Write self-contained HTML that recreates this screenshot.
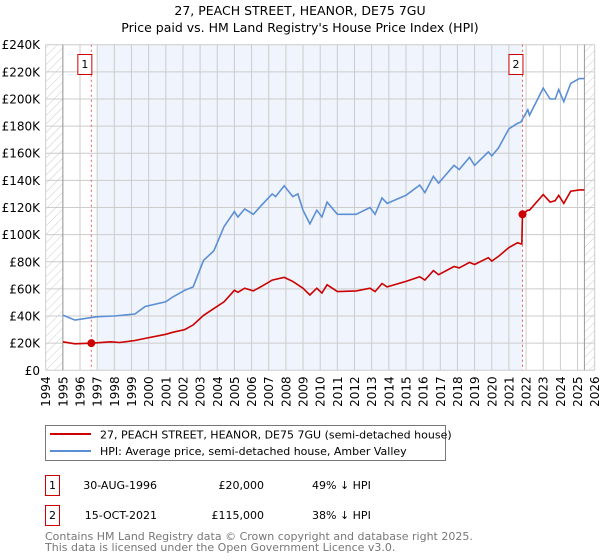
<!DOCTYPE html>
<html><head><meta charset="utf-8"><style>
body{margin:0;background:#fff;}
svg{display:block;font-family:"DejaVu Sans","Liberation Sans",sans-serif;}
</style></head><body>
<svg id="c" width="600" height="560" xmlns="http://www.w3.org/2000/svg">
<defs><pattern id="hatch" width="6" height="6" patternUnits="userSpaceOnUse" patternTransform="rotate(45)"><line x1="0" y1="0" x2="0" y2="6" stroke="#ccc" stroke-width="1"/></pattern></defs>
<text x="300" y="15" text-anchor="middle" font-size="12.5">27, PEACH STREET, HEANOR, DE75 7GU</text>
<text x="300" y="32" text-anchor="middle" font-size="12.5">Price paid vs. HM Land Registry's House Price Index (HPI)</text>
<g id="plot"></g>
<g>
<rect x="45.5" y="425.5" width="400" height="35" fill="#fff" stroke="#777"/>
<line x1="50" y1="434" x2="91" y2="434" stroke="#cc0000" stroke-width="2"/>
<text x="100" y="438.5" font-size="11">27, PEACH STREET, HEANOR, DE75 7GU (semi-detached house)</text>
<line x1="50" y1="451" x2="91" y2="451" stroke="#5b8fd4" stroke-width="2"/>
<text x="100" y="455" font-size="11">HPI: Average price, semi-detached house, Amber Valley</text>
</g>
<g font-size="11">
<rect x="45.5" y="475.5" width="14" height="20" fill="#fff" stroke="#cc0000"/>
<text x="52.5" y="489" text-anchor="middle">1</text>
<text x="157" y="489" text-anchor="end">30-AUG-1996</text>
<text x="264" y="489" text-anchor="end">£20,000</text>
<text x="312" y="489">49% ↓ HPI</text>
<rect x="45.5" y="505.5" width="14" height="20" fill="#fff" stroke="#cc0000"/>
<text x="52.5" y="519" text-anchor="middle">2</text>
<text x="157" y="519" text-anchor="end">15-OCT-2021</text>
<text x="264" y="519" text-anchor="end">£115,000</text>
<text x="312" y="519">38% ↓ HPI</text>
</g>
<text x="45" y="540" font-size="11" fill="#777">Contains HM Land Registry data © Crown copyright and database right 2025.</text>
<text x="45" y="551" font-size="11" fill="#777">This data is licensed under the Open Government Licence v3.0.</text>
</svg>
<script>
const hpiYears=[1995,1995.7,1997,1998,1999.2,1999.8,2001,2001.4,2002.1,2002.6,2003.2,2003.8,2004.4,2005.0,2005.2,2005.6,2006.1,2006.6,2007.2,2007.4,2007.9,2008.4,2008.7,2009.0,2009.4,2009.8,2010.1,2010.4,2011.0,2012.1,2012.9,2013.2,2013.6,2013.9,2015.0,2015.8,2016.1,2016.6,2016.9,2017.8,2018.1,2018.7,2019.0,2019.8,2020.0,2020.4,2021.0,2021.5,2021.7,2022.1,2022.2,2023.0,2023.4,2023.7,2023.9,2024.2,2024.6,2025.1,2025.4];
const hpiValues=[40.7,37,39.5,40,41.5,47,50.5,54,59,61.5,81,88,106,117,113,119,115,122,130,128,136,128,130,118,108,118,113,124,115,115,120,115,127,123,129,136.5,131,143,138,151,148,157,151,161,158,164,178,182,183,192,188,208,200,200,207,198,211.5,215,215];
const priceYears=[1995,1995.7,1996.66,1997.8,1998.3,1999.2,1999.8,2001,2001.4,2002.1,2002.6,2003.2,2003.8,2004.4,2005.0,2005.2,2005.6,2006.1,2006.6,2007.2,2007.9,2008.4,2009.0,2009.4,2009.8,2010.1,2010.4,2011.0,2012.1,2012.9,2013.2,2013.6,2013.9,2015.0,2015.8,2016.1,2016.6,2016.9,2017.8,2018.1,2018.7,2019.0,2019.8,2020.0,2020.4,2021.0,2021.5,2021.75,2021.79,2022.1,2022.2,2023.0,2023.4,2023.7,2023.9,2024.2,2024.6,2025.1,2025.4];
const priceValues=[21,19.5,20,21,20.5,22,23.5,26.5,28,30,33.5,40.5,45.5,50.5,59,57.5,60.5,58.5,62,66.5,68.5,65.5,60.5,55.5,60.5,57,63,58,58.5,60.5,58,64,61.5,65.5,69,66.5,73.5,70.5,76.5,75.5,79.5,78,83,80.5,84,90.5,94,93,115,118,118,129.5,124,125,129,123,132,133,133];
const sales=[{label:"1",year:1996.66,value:20},{label:"2",year:2021.79,value:115}];
const yTicks=[0,20,40,60,80,100,120,140,160,180,200,220,240];
const xTicks=[1994,1995,1996,1997,1998,1999,2000,2001,2002,2003,2004,2005,2006,2007,2008,2009,2010,2011,2012,2013,2014,2015,2016,2017,2018,2019,2020,2021,2022,2023,2024,2025,2026];

const NS="http://www.w3.org/2000/svg";
const X0=45.7,X1=594.7,Y0=370.3,Y1=44.7;
const xs=y=>X0+(y-1994)/(2026-1994)*(X1-X0);
const ys=v=>Y0-v/240*(Y0-Y1);
const g=document.getElementById('plot');
function mk(tag,attrs,parent){const e=document.createElementNS(NS,tag);for(const k in attrs)e.setAttribute(k,attrs[k]);(parent||g).appendChild(e);return e;}

let e;
e=mk('rect',{x:X0,y:Y1,width:X1-X0,height:Y0-Y1,fill:'#fff'});


e=mk('rect',{x:xs(1997),y:Y1,width:xs(sales[1].year)-xs(1997),height:Y0-Y1,fill:'#f0f4fd'});


e=mk('rect',{x:X0,y:Y1,width:xs(1995)-X0,height:Y0-Y1,fill:'url(#hatch)'});


e=mk('rect',{x:xs(2025.4),y:Y1,width:X1-xs(2025.4),height:Y0-Y1,fill:'url(#hatch)'});



yTicks.forEach(v=>{
  e=mk('line',{x1:X0,x2:X1,y1:ys(v),y2:ys(v),stroke:'#ccc','stroke-width':1});
  
  
  e=mk('text',{x:40,y:ys(v)+4.5,'text-anchor':'end','font-size':12});
  e.textContent=v===0?'£0':'£'+v+'K';
  
  
});
xTicks.forEach(y=>{
  e=mk('line',{x1:xs(y),x2:xs(y),y1:Y1,y2:Y0,stroke:'#ccc','stroke-width':1});
  
  
  e=mk('text',{x:0,y:0,'text-anchor':'end','font-size':12,transform:`translate(${xs(y)+4.5},${Y0+6}) rotate(-90)`});
  e.textContent=y;
  
  
});
e=mk('line',{x1:xs(1995),x2:xs(1995),y1:Y1,y2:Y0,stroke:'#999'});


e=mk('line',{x1:xs(2025.4),x2:xs(2025.4),y1:Y1,y2:Y0,stroke:'#999'});



sales.forEach(s=>{
  e=mk('line',{x1:xs(s.year),x2:xs(s.year),y1:Y1,y2:Y0,stroke:'#e06060','stroke-dasharray':'2,3'});
  
  
});

function pts(xa,va){return xa.map((x,i)=>xs(x).toFixed(1)+','+ys(va[i]).toFixed(1)).join(' ');}
e=mk('polyline',{points:pts(hpiYears,hpiValues),fill:'none',stroke:'#5b8fd4','stroke-width':1.6});


e=mk('polyline',{points:pts(priceYears,priceValues),fill:'none',stroke:'#cc0000','stroke-width':1.6});



sales.forEach(s=>{
  e=mk('circle',{cx:xs(s.year),cy:ys(s.value),r:4,fill:'#cc0000'});
  
  
  const bx=xs(s.year)-14;
  e=mk('rect',{x:bx+0.5,y:54.5,width:14,height:20,fill:'#fff',stroke:'#cc0000'});
  
  
  e=mk('text',{x:bx+7.5,y:68,'text-anchor':'middle','font-size':11});
  e.textContent=s.label;
  
  
});
</script>
</body></html>
